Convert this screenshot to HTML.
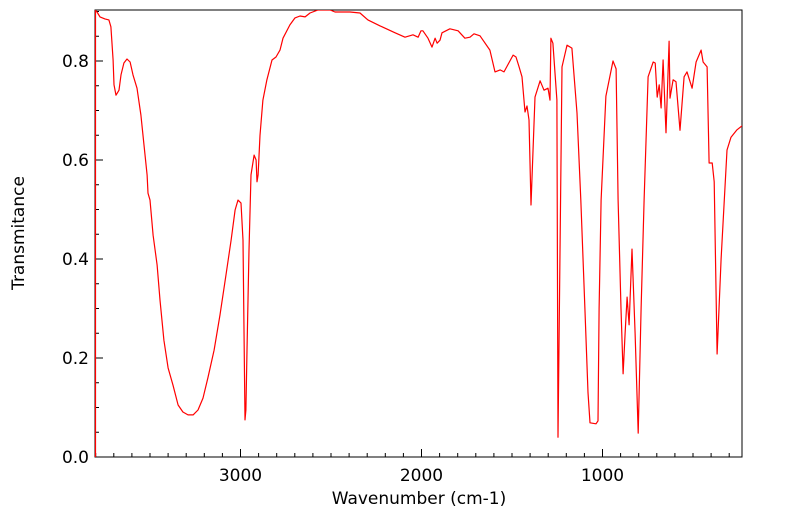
<!DOCTYPE html>
<html><head><meta charset="utf-8"><style>
html,body{margin:0;padding:0;background:#fff;}
svg{display:block;font-family:"DejaVu Sans","Liberation Sans",sans-serif;}
</style></head><body>
<svg id="chart" width="799" height="516" viewBox="0 0 799 516" xmlns="http://www.w3.org/2000/svg">
<g id="axes"></g>
<g id="series"></g>
<text x="419" y="504" font-size="17" text-anchor="middle">Wavenumber (cm-1)</text>
<text x="0" y="0" font-size="17" text-anchor="middle" transform="translate(24,233) rotate(-90)">Transmitance</text>
</svg>
<script>
const wavenumbers = [3804,3793,3776,3749,3727,3716,3704,3699,3688,3671,3660,3644,3627,3610,3594,3572,3550,3533,3516,3511,3500,3483,3461,3445,3423,3400,3373,3345,3318,3290,3262,3235,3207,3180,3146,3113,3080,3052,3030,3014,2997,2986,2975,2970,2964,2953,2942,2925,2914,2909,2903,2892,2876,2854,2826,2804,2782,2765,2727,2699,2671,2643,2616,2572,2505,2478,2395,2340,2296,2229,2146,2091,2047,2019,2003,1992,1964,1942,1925,1914,1898,1887,1843,1798,1760,1732,1710,1677,1622,1594,1566,1544,1494,1478,1461,1445,1428,1417,1406,1395,1373,1345,1323,1301,1290,1285,1274,1252,1246,1224,1196,1169,1141,1120,1097,1080,1069,1036,1025,1019,1008,981,942,925,914,898,886,875,864,853,837,820,803,787,770,748,720,709,698,687,676,665,649,632,627,610,594,572,549,533,505,483,455,444,422,411,394,383,367,345,312,290,257,229];
const transmittance = [0.903,0.899,0.889,0.885,0.883,0.869,0.802,0.752,0.731,0.741,0.772,0.796,0.804,0.798,0.772,0.745,0.691,0.630,0.570,0.533,0.519,0.448,0.388,0.317,0.236,0.180,0.145,0.105,0.091,0.085,0.085,0.095,0.119,0.160,0.216,0.287,0.368,0.438,0.499,0.519,0.513,0.438,0.075,0.095,0.216,0.418,0.570,0.610,0.600,0.556,0.570,0.650,0.721,0.762,0.802,0.808,0.822,0.846,0.873,0.887,0.891,0.889,0.897,0.903,0.903,0.899,0.899,0.897,0.883,0.871,0.857,0.848,0.853,0.848,0.861,0.861,0.846,0.828,0.846,0.836,0.842,0.857,0.865,0.861,0.846,0.848,0.855,0.851,0.822,0.778,0.782,0.778,0.812,0.808,0.788,0.768,0.697,0.709,0.681,0.509,0.727,0.760,0.741,0.745,0.721,0.846,0.836,0.721,0.040,0.788,0.832,0.826,0.695,0.520,0.300,0.130,0.069,0.067,0.073,0.300,0.519,0.729,0.800,0.784,0.519,0.300,0.168,0.250,0.323,0.267,0.420,0.250,0.048,0.300,0.519,0.768,0.798,0.796,0.727,0.752,0.705,0.802,0.655,0.840,0.725,0.762,0.758,0.660,0.768,0.778,0.745,0.798,0.822,0.798,0.788,0.594,0.594,0.556,0.208,0.400,0.620,0.646,0.661,0.669];
const xTicks = [3000,2000,1000];
const yTicks = [0.0,0.2,0.4,0.6,0.8];
const yTickLabels = ["0.0","0.2","0.4","0.6","0.8"];

const L=95,R=742,T=10,B=457;
const X=w=>240.5+(3000-w)*0.181;
const Y=v=>B-v*495;
const NS="http://www.w3.org/2000/svg";
function mk(tag,attrs,parent){const e=document.createElementNS(NS,tag);for(const k in attrs)e.setAttribute(k,attrs[k]);parent.appendChild(e);return e;}
const ax=document.getElementById('axes');
const ser=document.getElementById('series');

const defs=mk('defs',{},document.getElementById('chart'));
const cp=mk('clipPath',{id:'clip'},defs);
mk('rect',{x:L,y:T,width:R-L,height:B-T},cp);

for(let w=300;w<=3800;w+=100){
  const x=X(w); if(x<L||x>R) continue;
  const major=w%1000===0;
  const t=mk('line',{x1:x,x2:x,y1:B,y2:B-(major?8:4),stroke:'#000','stroke-width':1},ax);
  
  
}
xTicks.forEach(w=>{
  const t=mk('text',{x:X(w),y:481,'font-size':17,'text-anchor':'middle'},ax);
  t.textContent=String(w);
  
  
});
for(let i=0;i<=18;i++){
  const v=i*0.05; const y=Y(v); if(y<T) continue;
  const major=i%4===0;
  const t=mk('line',{x1:L,x2:L+(major?8:4),y1:y,y2:y,stroke:'#000','stroke-width':1},ax);
  
  
}
yTicks.forEach((v,i)=>{
  const t=mk('text',{x:89,y:Y(v)+6,'font-size':17,'text-anchor':'end'},ax);
  t.textContent=yTickLabels[i];
  
  
});

let d='';
wavenumbers.forEach((w,i)=>{d+=(i?'L':'M')+X(w).toFixed(1)+','+Y(transmittance[i]).toFixed(1);});
const p=mk('path',{d:d,fill:'none',stroke:'#ff0000','stroke-width':1.2,'clip-path':'url(#clip)','stroke-linejoin':'round'},ser);


const edge=mk('line',{x1:L+0.5,x2:L+0.5,y1:T,y2:B,stroke:'#ff0000','stroke-width':1.2},ser);



const frame=mk('rect',{x:L,y:T,width:R-L,height:B-T,fill:'none',stroke:'#000','stroke-width':1},ax);


</script>
</body></html>
